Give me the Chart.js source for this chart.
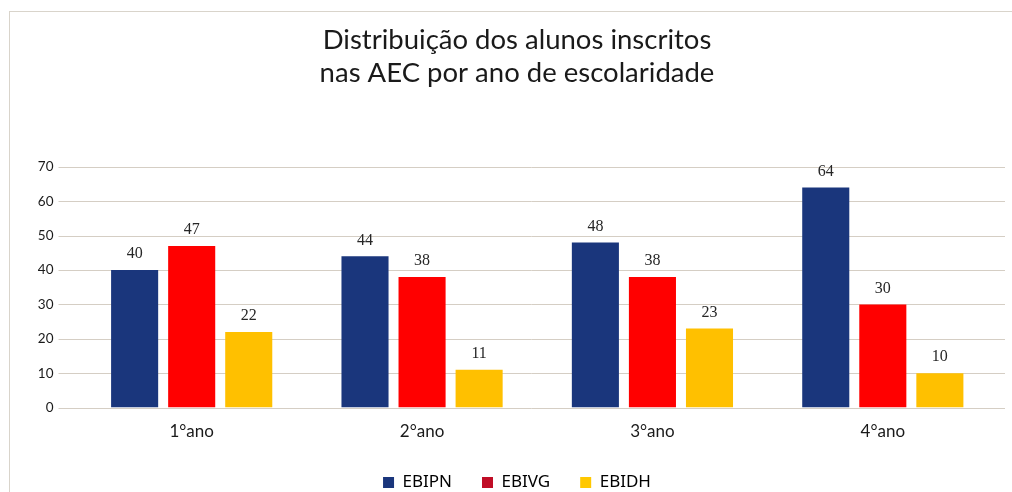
<!DOCTYPE html>
<html>
<head>
<meta charset="utf-8">
<script src="https://cdn.jsdelivr.net/npm/chart.js@4.4.1/dist/chart.umd.min.js"></script>
<style>
  html, body { margin: 0; padding: 0; background: #fff; overflow: hidden; }
  #frame { position: absolute; left: 9px; top: 11px; width: 1100px; height: 600px;
           border-left: 1px solid #d9d4cb; border-top: 1px solid #d9d4cb; }
  #wrap { position: absolute; left: 0; top: 0; width: 1012px; height: 492px; }
</style>
</head>
<body>
<div id="frame"></div>
<div id="wrap"><canvas id="chartCanvas"></canvas></div>
<script>
// données
const anos = ["1°ano", "2°ano", "3°ano", "4°ano"];
const ebipn = [40, 44, 48, 64];
const ebivg = [47, 38, 38, 30];
const ebidh = [22, 11, 23, 10];
const yTicks = [0, 10, 20, 30, 40, 50, 60, 70];

const barColors = ["#1a367c", "#ff0000", "#ffc000"];
const legendColors = ["#1a367c", "#c00d26", "#ffc800"];

// lignes de grille un peu plus longues que la zone du graphique
const gridPlugin = {
  id: "gridLines",
  afterLayout(chart) {
    // remonter un peu la légende
    if (chart.legend) {
      chart.legend.top -= 12;
      chart.legend.bottom -= 12;
    }
  },
  beforeDatasetsDraw(chart) {
    const ctx = chart.ctx;
    const area = chart.chartArea;
    const y = chart.scales.y;
    ctx.save();
    ctx.strokeStyle = "#d5cec4";
    ctx.lineWidth = 1;
    y.ticks.forEach((t) => {
      const py = Math.round(y.getPixelForValue(t.value)) + 0.5;
      ctx.beginPath();
      ctx.moveTo(area.left - 18, py);
      ctx.lineTo(area.right + 7, py);
      ctx.stroke();
    });
    ctx.restore();
  },
};

// étiquettes des valeurs au-dessus des barres
const valuePlugin = {
  id: "valueLabels",
  afterDatasetsDraw(chart) {
    const ctx = chart.ctx;
    ctx.save();
    ctx.font = "16px 'Liberation Serif'";
    ctx.fillStyle = "#262626";
    ctx.textAlign = "center";
    ctx.textBaseline = "bottom";
    chart.data.datasets.forEach((ds, i) => {
      const meta = chart.getDatasetMeta(i);
      meta.data.forEach((bar, j) => {
        ctx.fillText(ds.data[j], bar.x, bar.y - 8);
      });
    });
    ctx.restore();
  },
};

const ctx = document.getElementById("chartCanvas").getContext("2d");
new Chart(ctx, {
  type: "bar",
  data: {
    labels: anos,
    datasets: [
      { label: "EBIPN", data: ebipn, backgroundColor: barColors[0] },
      { label: "EBIVG", data: ebivg, backgroundColor: barColors[1] },
      { label: "EBIDH", data: ebidh, backgroundColor: barColors[2] },
    ],
  },
  options: {
    responsive: true,
    maintainAspectRatio: false,
    animation: false,
    categoryPercentage: 0.743,
    barPercentage: 0.825,
    layout: { padding: { left: 36, right: 14, top: 0, bottom: -21 } },
    scales: {
      x: {
        grid: { display: false, drawTicks: false },
        border: { display: false },
        ticks: { padding: 14, color: "#1a1a1a", font: { family: "Lato", size: 17 } },
      },
      y: {
        min: 0,
        max: 70,
        afterBuildTicks: (s) => { s.ticks = yTicks.map((v) => ({ value: v })); },
        afterFit: (s) => { s.width = 40.5; },
        grid: { display: false, drawTicks: false },
        border: { display: false },
        ticks: { padding: 23, color: "#1a1a1a", font: { family: "Lato", size: 13.5 } },
      },
    },
    plugins: {
      title: {
        display: true,
        text: ["Distribuição dos alunos inscritos", "nas AEC por ano de escolaridade"],
        color: "#1a1a1a",
        font: { family: "Lato", size: 27.5, weight: "normal", lineHeight: 1.2 },
        padding: { top: 23.5, bottom: 77.5 },
      },
      legend: {
        position: "bottom",
        labels: {
          boxWidth: 11,
          boxHeight: 11,
          padding: 30,
          color: "#111",
          font: { family: "Noto Sans", size: 17 },
          generateLabels: (chart) =>
            chart.data.datasets.map((ds, i) => ({
              text: ds.label,
              fillStyle: legendColors[i],
              strokeStyle: legendColors[i],
              lineWidth: 0,
              datasetIndex: i,
            })),
        },
      },
      tooltip: { enabled: false },
    },
  },
  plugins: [gridPlugin, valuePlugin],
});
</script>
</body>
</html>
